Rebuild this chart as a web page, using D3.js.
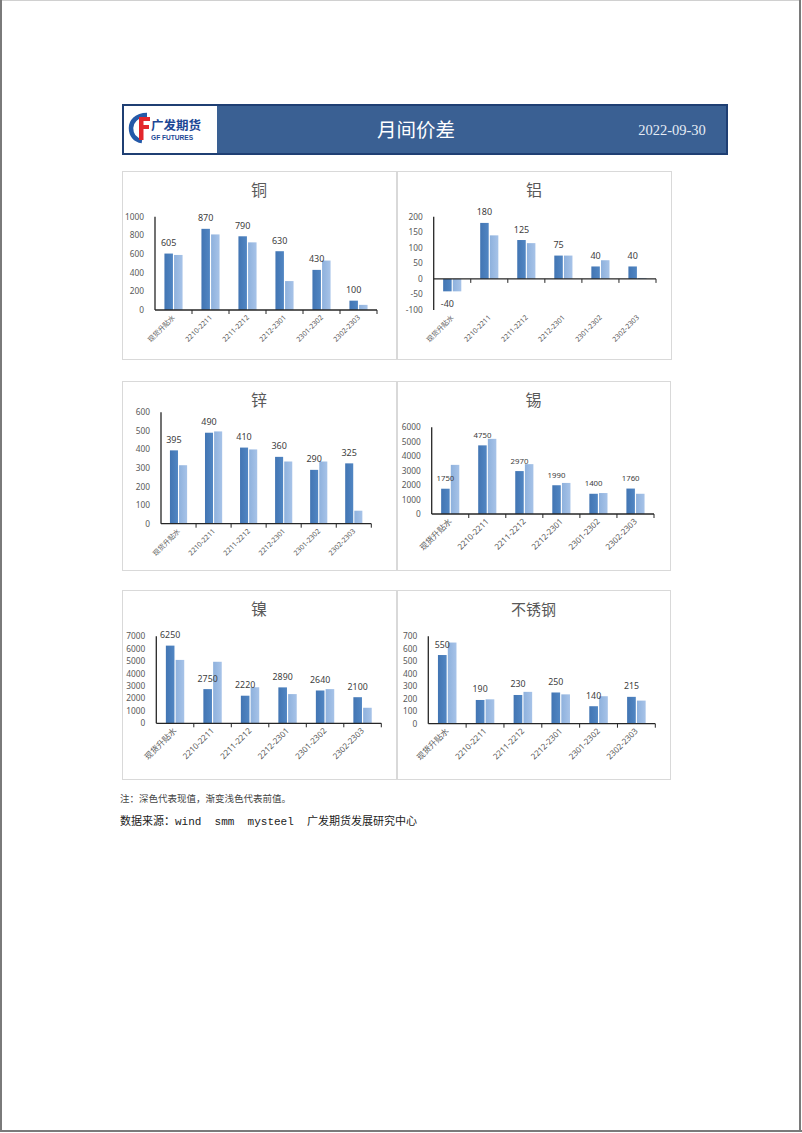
<!DOCTYPE html>
<html><head><meta charset="utf-8">
<script src="https://cdn.jsdelivr.net/npm/d3@7"></script>
<style>html,body{margin:0;padding:0;background:#fff}svg{display:block}</style>
</head><body>
<script>
// ---------- DATA ----------
const categories = ["现货升贴水","2210-2211","2211-2212","2212-2301","2301-2302","2302-2303"];
const metalNames = ["铜","铝","锌","锡","镍","不锈钢"];
const copperNow     = [605, 870, 790, 630, 430, 100];
const copperPrev    = [590, 810, 725, 310, 530, 55];
const aluminumNow   = [-40, 180, 125, 75, 40, 40];
const aluminumPrev  = [-40, 140, 115, 75, 60, 3];
const zincNow       = [395, 490, 410, 360, 290, 325];
const zincPrev      = [315, 497, 400, 335, 335, 70];
const tinNow        = [1750, 4750, 2970, 1990, 1400, 1760];
const tinPrev       = [3400, 5200, 3450, 2150, 1450, 1400];
const nickelNow     = [6250, 2750, 2220, 2890, 2640, 2100];
const nickelPrev    = [5100, 4950, 2900, 2350, 2750, 1250];
const stainlessNow  = [550, 190, 230, 250, 140, 215];
const stainlessPrev = [650, 195, 255, 235, 220, 185];
const copperTicks    = [0, 200, 400, 600, 800, 1000];
const aluminumTicks  = [-100, -50, 0, 50, 100, 150, 200];
const zincTicks      = [0, 100, 200, 300, 400, 500, 600];
const tinTicks       = [0, 1000, 2000, 3000, 4000, 5000, 6000];
const nickelTicks    = [0, 1000, 2000, 3000, 4000, 5000, 6000, 7000];
const stainlessTicks = [0, 100, 200, 300, 400, 500, 600, 700];
const headerTitle = "月间价差";
const headerDate = "2022-09-30";
const logoCn = "广发期货";
const logoEn = "GF FUTURES";
const noteText = "注：深色代表现值，渐变浅色代表前值。";
const sourceText = "数据来源：wind  smm  mysteel  广发期货发展研究中心";

// ---------- LAYOUT ----------
const W = 802, H = 1133;
const panels = [
  {name: metalNames[0], now: copperNow,    prev: copperPrev,    ticks: copperTicks,    box: [122, 171, 274, 188], plot: [155, 377, 216.7, 310],     lbl: 9,   xl: 7},
  {name: metalNames[1], now: aluminumNow,  prev: aluminumPrev,  ticks: aluminumTicks,  box: [397, 171, 274, 188], plot: [433.7, 656, 216.7, 310],   lbl: 9,   xl: 7},
  {name: metalNames[2], now: zincNow,      prev: zincPrev,      ticks: zincTicks,      box: [122, 381, 274, 189], plot: [161, 371.3, 412.3, 523.7], lbl: 9,   xl: 7},
  {name: metalNames[3], now: tinNow,       prev: tinPrev,       ticks: tinTicks,       box: [397, 381, 273, 189], plot: [431.7, 654, 427.3, 514],   lbl: 7.8, xl: 8.2},
  {name: metalNames[4], now: nickelNow,    prev: nickelPrev,    ticks: nickelTicks,    box: [122, 590, 274, 189], plot: [156.3, 381.3, 636.3, 723.3], lbl: 8.8, xl: 8.2},
  {name: metalNames[5], now: stainlessNow, prev: stainlessPrev, ticks: stainlessTicks, box: [397, 590, 273, 189], plot: [428.3, 655.3, 636.3, 723.7], lbl: 8.8, xl: 8.2}
];

const svg = d3.select("body").append("svg").attr("width", W).attr("height", H);
const defs = svg.append("defs");
const gDark = defs.append("linearGradient").attr("id", "gDark").attr("x1", "0").attr("x2", "1").attr("y1", "0").attr("y2", "0");
gDark.append("stop").attr("offset", "0").attr("stop-color", "#4275b3");
gDark.append("stop").attr("offset", "1").attr("stop-color", "#5186c3");
const gLight = defs.append("linearGradient").attr("id", "gLight").attr("x1", "0").attr("x2", "1").attr("y1", "0").attr("y2", "0");
gLight.append("stop").attr("offset", "0").attr("stop-color", "#8eb1dd");
gLight.append("stop").attr("offset", "1").attr("stop-color", "#a7c3e8");

// page frame
svg.append("rect").attr("x", 0).attr("y", 0).attr("width", W).attr("height", H).attr("fill", "#fff");
svg.append("line").attr("x1", 1).attr("x2", W - 1).attr("y1", 0.5).attr("y2", 0.5).attr("stroke", "#d0d0d0");
svg.append("line").attr("x1", 1).attr("x2", 1).attr("y1", 0).attr("y2", H - 1).attr("stroke", "#7a7a7a").attr("stroke-width", 2);
svg.append("line").attr("x1", W - 2).attr("x2", W - 2).attr("y1", 0).attr("y2", H - 1).attr("stroke", "#7a7a7a").attr("stroke-width", 2);
svg.append("line").attr("x1", 0).attr("x2", W).attr("y1", H - 2).attr("y2", H - 2).attr("stroke", "#7a7a7a").attr("stroke-width", 2);

// ---------- HEADER ----------
const hdr = svg.append("g");
hdr.append("rect").attr("x", 123).attr("y", 105).attr("width", 604).attr("height", 49)
  .attr("fill", "#3a6093").attr("stroke", "#1f3f73").attr("stroke-width", 2);
hdr.append("rect").attr("x", 124).attr("y", 106).attr("width", 93).attr("height", 47).attr("fill", "#fff");
// logo icon
hdr.append("path").attr("d", "M147,115 C136,115 131,122 131,128 C131,135 135,140 142,141")
  .attr("fill", "none").attr("stroke", "#2459a8").attr("stroke-width", 4.5);
hdr.append("path").attr("d", "M139,117 L150,117 L150,121 L143.5,121 L143.5,125 L149,125 L149,129 L143.5,129 L143.5,140 L139,140 Z")
  .attr("fill", "#e3262b");
hdr.append("text").attr("x", 151).attr("y", 129.5).text(logoCn)
  .attr("font-family", "Noto Sans CJK SC").attr("font-weight", "bold").attr("font-size", 12.5).attr("fill", "#1c4795");
hdr.append("text").attr("x", 151).attr("y", 140).text(logoEn)
  .attr("font-family", "Liberation Sans, Arial").attr("font-weight", "bold").attr("font-size", 6.6).attr("fill", "#1c4795");
hdr.append("text").attr("x", 416).attr("y", 137).attr("text-anchor", "middle").text(headerTitle)
  .attr("font-family", "Noto Sans CJK SC").attr("font-size", 19.5).attr("fill", "#ffffff");
hdr.append("text").attr("x", 672).attr("y", 134.5).attr("text-anchor", "middle").text(headerDate)
  .attr("font-family", "Liberation Serif, DejaVu Serif, serif").attr("font-size", 14.5).attr("fill", "#e6ecf5");

// ---------- PANELS ----------
panels.forEach(p => {
  const g = svg.append("g");
  const [bx, by, bw, bh] = p.box;
  const [x0, x1, yTop, yBot] = p.plot;
  g.append("rect").attr("x", bx + 0.5).attr("y", by + 0.5).attr("width", bw).attr("height", bh)
    .attr("fill", "#fff").attr("stroke", "#d9d9d9").attr("stroke-width", 1);
  g.append("text").attr("x", bx + bw / 2).attr("y", by + 25).attr("text-anchor", "middle").text(p.name)
    .attr("font-family", "Noto Sans CJK SC").attr("font-size", p.name.length > 1 ? 15 : 16).attr("fill", "#595959");

  const x = d3.scaleBand().domain(categories).range([x0, x1]).padding(0);
  const bw2 = x.bandwidth();
  const sub = d3.scaleBand().domain(["now", "prev"]).range([bw2 * 0.255, bw2 * 0.745]).paddingInner(0.12);
  const y = d3.scaleLinear().domain(d3.extent(p.ticks)).range([yBot, yTop]);

  // y tick labels
  g.append("g").selectAll("text").data(p.ticks).join("text")
    .attr("x", x0 - 11).attr("y", d => y(d) + 3).attr("text-anchor", "end").text(d => d)
    .attr("font-family", "Noto Sans, Liberation Sans").attr("font-size", 8.3).attr("fill", "#595959");

  const rows = categories.map((c, i) => ({c, now: p.now[i], prev: p.prev[i]}));
  const barG = g.append("g");
  ["now", "prev"].forEach(k => {
    barG.selectAll("rect." + k).data(rows).join("rect").attr("class", k)
      .attr("x", d => x(d.c) + sub(k)).attr("width", sub.bandwidth())
      .attr("y", d => y(Math.max(0, d[k]))).attr("height", d => Math.abs(y(d[k]) - y(0)))
      .attr("fill", k === "now" ? "url(#gDark)" : "url(#gLight)");
  });
  // value labels on current bars
  g.append("g").selectAll("text").data(rows).join("text")
    .attr("x", d => x(d.c) + sub("now") + sub.bandwidth() / 2)
    .attr("y", d => d.now >= 0 ? y(d.now) - 7.5 : y(d.now) + 16)
    .attr("text-anchor", "middle").text(d => d.now)
    .attr("font-family", "Noto Sans, Liberation Sans").attr("font-size", p.lbl).attr("fill", "#404040");

  // axes
  const zeroY = y(0);
  g.append("line").attr("x1", x0).attr("x2", x0).attr("y1", yTop).attr("y2", yBot)
    .attr("stroke", "#262626").attr("stroke-width", 1.3);
  g.append("line").attr("x1", x0).attr("x2", x1).attr("y1", zeroY).attr("y2", zeroY)
    .attr("stroke", "#262626").attr("stroke-width", 1.3);
  g.append("g").selectAll("line").data(categories).join("line")
    .attr("x1", d => x(d) + bw2).attr("x2", d => x(d) + bw2).attr("y1", zeroY).attr("y2", zeroY + 4)
    .attr("stroke", "#262626").attr("stroke-width", 1);

  // x category labels (rotated)
  g.append("g").selectAll("text").data(categories).join("text")
    .attr("transform", d => `translate(${x(d) + bw2 / 2 + 2},${yBot + 8}) rotate(-45)`)
    .attr("text-anchor", "end").text(d => d)
    .attr("font-family", "Noto Sans, Noto Sans CJK SC").attr("font-size", p.xl).attr("fill", "#595959");
});

// ---------- FOOTER ----------
svg.append("text").attr("x", 120).attr("y", 802).text(noteText)
  .attr("font-family", "Noto Sans CJK SC").attr("font-size", 9.5).attr("fill", "#444");
svg.append("text").attr("x", 120).attr("y", 825).text(sourceText)
  .attr("xml:space", "preserve").style("white-space", "pre")
  .attr("font-family", "Liberation Mono, Noto Sans CJK SC").attr("font-size", 11).attr("fill", "#222");
</script>
</body></html>
